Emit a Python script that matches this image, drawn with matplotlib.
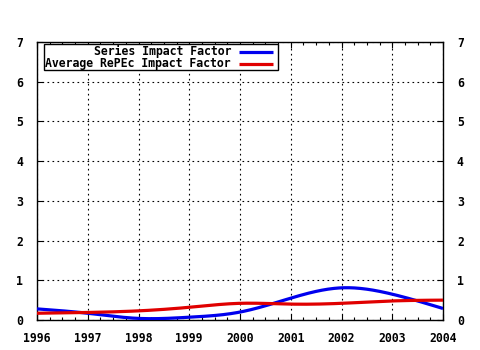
import numpy as np
import matplotlib
matplotlib.use("Agg")
import matplotlib.pyplot as plt
from matplotlib.ticker import MultipleLocator
from matplotlib.patches import Rectangle

years = [1996, 1997, 1998, 1999, 2000, 2001, 2002, 2003, 2004]
series_if = [0.28, 0.17, 0.04, 0.07, 0.20, 0.55, 0.81, 0.65, 0.29]
repec_if = [0.17, 0.19, 0.23, 0.32, 0.42, 0.40, 0.42, 0.48, 0.50]
labels = ["Series Impact Factor", "Average RePEc Impact Factor"]
colors = ["#0000ee", "#e00000"]


def natural_spline(x, y, n=400):
    """Natural cubic spline through (x, y), evaluated on n points."""
    x = np.asarray(x, float)
    y = np.asarray(y, float)
    m = len(x)
    h = np.diff(x)
    A = np.zeros((m, m))
    b = np.zeros(m)
    A[0, 0] = A[-1, -1] = 1.0
    for i in range(1, m - 1):
        A[i, i - 1] = h[i - 1]
        A[i, i] = 2 * (h[i - 1] + h[i])
        A[i, i + 1] = h[i]
        b[i] = 6 * ((y[i + 1] - y[i]) / h[i] - (y[i] - y[i - 1]) / h[i - 1])
    M = np.linalg.solve(A, b)
    xs = np.linspace(x[0], x[-1], n)
    idx = np.clip(np.searchsorted(x, xs) - 1, 0, m - 2)
    x0, x1 = x[idx], x[idx + 1]
    hh = x1 - x0
    t0, t1 = x1 - xs, xs - x0
    ys = (M[idx] * t0 ** 3 + M[idx + 1] * t1 ** 3) / (6 * hh) \
        + (y[idx] / hh - M[idx] * hh / 6) * t0 \
        + (y[idx + 1] / hh - M[idx + 1] * hh / 6) * t1
    return xs, ys


font = {"family": "DejaVu Sans Mono", "weight": "bold", "size": 8.3}

fig = plt.figure(figsize=(4.8, 3.5), dpi=100)
ax = fig.add_axes([37 / 480, 30 / 350, 406 / 480, 278 / 350])

for vals, col in zip([series_if, repec_if], colors):
    xs, ys = natural_spline(years, vals)
    ax.plot(xs, ys, color=col, lw=2.3, solid_capstyle="butt", zorder=3)

ax.set_xlim(1996, 2004)
ax.set_ylim(0, 7)
ax.xaxis.set_major_locator(MultipleLocator(1))
ax.xaxis.set_minor_locator(MultipleLocator(0.25))
ax.yaxis.set_major_locator(MultipleLocator(1))

ax.grid(True, which="major", color="black", linestyle=(0, (1.5, 3)), lw=0.8)
for s in ax.spines.values():
    s.set_color("black")
    s.set_linewidth(1.0)

ax.tick_params(axis="both", which="major", direction="in", length=4.5,
               width=0.8, top=True, right=True, labelright=True)
ax.tick_params(axis="x", which="minor", direction="in", length=2.2,
               width=0.8, top=True, bottom=True)
ax.tick_params(axis="x", which="major", pad=9)
ax.tick_params(axis="y", which="major", pad=10)
ax.yaxis.set_tick_params(which="major", pad=10)

ax.set_xticks(years)
ax.set_xticklabels([str(y) for y in years], fontdict=font)
yt = list(range(8))
ax.set_yticks(yt)
ax.set_yticklabels([str(v) for v in yt], fontdict=font)
for lab in ax.get_yticklabels(which="major"):
    lab.set_fontproperties(matplotlib.font_manager.FontProperties(**font))
for t in ax.yaxis.get_major_ticks():
    t.label2.set_fontproperties(matplotlib.font_manager.FontProperties(**font))
    t.label2.set_text(t.label1.get_text())
    t.set_pad(10)

# key box in the upper left
to_ax = fig.transFigure + ax.transAxes.inverted()
(bx0, by0) = to_ax.transform((44 / 480, 1 - 70 / 350))
(bx1, by1) = to_ax.transform((278 / 480, 1 - 44 / 350))
ax.add_patch(Rectangle((bx0, by0), bx1 - bx0, by1 - by0, transform=ax.transAxes,
                       fill=True, facecolor="white", edgecolor="black", lw=1.0, zorder=4))
for i, (lab, col) in enumerate(zip(labels, colors)):
    yy = 1 - (51.5 + i * 12) / 350
    fig.text(231 / 480, yy, lab, ha="right", va="center", zorder=5, **font)
    fig.add_artist(plt.Line2D([239 / 480, 273 / 480], [yy, yy], color=col,
                              lw=2.3, solid_capstyle="butt", zorder=5))

fig.savefig("out.png", dpi=100)
